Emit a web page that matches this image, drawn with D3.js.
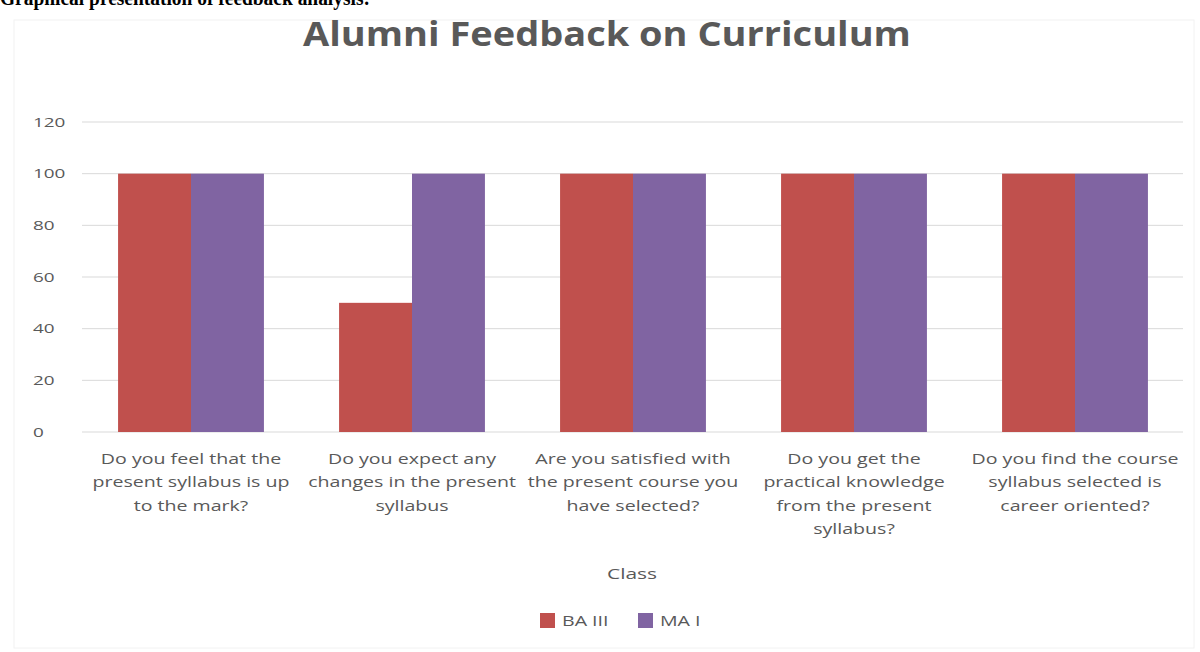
<!DOCTYPE html>
<html><head><meta charset="utf-8">
<script src="https://cdn.jsdelivr.net/npm/d3@7"></script>
<style>body{margin:0;background:#fff;}svg{display:block;}</style>
</head><body>
<svg id="c" width="1200" height="652"></svg>
<script>
const categories = [
  ["Do you feel that the","present syllabus is up","to the mark?"],
  ["Do you expect any","changes in the present","syllabus"],
  ["Are you satisfied with","the present course you","have selected?"],
  ["Do you get the","practical knowledge","from the present","syllabus?"],
  ["Do you find the course","syllabus selected is","career oriented?"]
];
const seriesNames = ["BA III","MA I"];
const baIII = [100, 50, 100, 100, 100];
const maI = [100, 100, 100, 100, 100];
const yTicks = [0, 20, 40, 60, 80, 100, 120];
const colors = ["#C0504D", "#8064A2"];

const svg = d3.select("#c");
const font = "'Open Sans', sans-serif";
const txt = "#595959";
const sx = 1.4; // horizontal stretch of the reference's text

// faint chart frame
svg.append("rect").attr("x",14).attr("y",20).attr("width",1180).attr("height",628)
  .attr("fill","none").attr("stroke","#f2f2f2");

// top cut-off heading
svg.append("text").attr("x",0).attr("y",5)
  .attr("font-family","'Liberation Serif', 'Times New Roman', serif")
  .attr("font-weight","bold").attr("font-size",20).attr("fill","#000")
  .attr("textLength",370).attr("lengthAdjust","spacingAndGlyphs")
  .text("Graphical presentation of feedback analysis:");

const title = svg.append("text").attr("x",607).attr("y",46).attr("text-anchor","middle")
  .attr("font-family",font).attr("font-weight","bold").attr("font-size",34)
  .attr("fill",txt).text("Alumni Feedback on Curriculum");
const tw = title.node().getComputedTextLength();
title.attr("transform",`translate(607,46) scale(${608/tw},1) translate(-607,-46)`);

const y = d3.scaleLinear().domain([0,120]).range([432,122]);
const idx = d3.range(categories.length);
const x0 = d3.scaleBand().domain(idx).range([80.5,1185.5]).padding(0);
const bw = x0.bandwidth();
const x1 = d3.scaleBand().domain(seriesNames).range([bw*0.17, bw*0.83]).padding(0);

// gridlines
svg.append("g").selectAll("line").data(yTicks).join("line")
  .attr("x1",82).attr("x2",1183)
  .attr("y1",d=>y(d)).attr("y2",d=>y(d))
  .attr("stroke","#d9d9d9").attr("stroke-width",1);

// y labels via axis
const yAxis = svg.append("g").attr("transform","translate(33,0)")
  .call(d3.axisRight(y).tickValues(yTicks).tickSize(0).tickPadding(0));
yAxis.select(".domain").remove();
yAxis.selectAll(".tick text").attr("font-family",font).attr("font-size",13.5).attr("fill",txt)
  .attr("text-anchor","start").attr("x",0).attr("transform",`scale(${sx},1)`);

const data = idx.map(i => [baIII[i], maI[i]]);
const groups = svg.append("g").selectAll("g").data(data).join("g")
  .attr("transform",(d,i)=>`translate(${x0(i)},0)`);
groups.selectAll("rect").data(d=>d.map((v,j)=>({v, s:seriesNames[j], j}))).join("rect")
  .attr("x",d=>x1(d.s)).attr("width",x1.bandwidth())
  .attr("y",d=>y(d.v)).attr("height",d=>y(0)-y(d.v))
  .attr("fill",d=>colors[d.j]);

// category labels
const cl = svg.append("g").selectAll("text").data(categories).join("text")
  .attr("text-anchor","middle").attr("font-family",font).attr("font-size",14)
  .attr("fill",txt)
  .attr("transform",(d,i)=>`translate(${x0(i)+bw/2},0) scale(${sx},1)`);
cl.selectAll("tspan").data(d=>d).join("tspan")
  .attr("x",0).attr("y",(d,k)=>464+k*23.5).text(d=>d);

svg.append("text").attr("transform",`translate(632,579) scale(${sx},1)`).attr("text-anchor","middle")
  .attr("font-family",font).attr("font-size",15).attr("fill",txt).text("Class");

const leg = svg.append("g").selectAll("g").data(seriesNames).join("g")
  .attr("transform",(d,i)=>`translate(${540+i*98},613)`);
leg.append("rect").attr("width",15).attr("height",15).attr("fill",(d,i)=>colors[i]);
leg.append("text").attr("transform",`translate(22,13) scale(${sx},1)`).attr("font-family",font).attr("font-size",14)
  .attr("fill",txt).text(d=>d);
</script>
</body></html>
